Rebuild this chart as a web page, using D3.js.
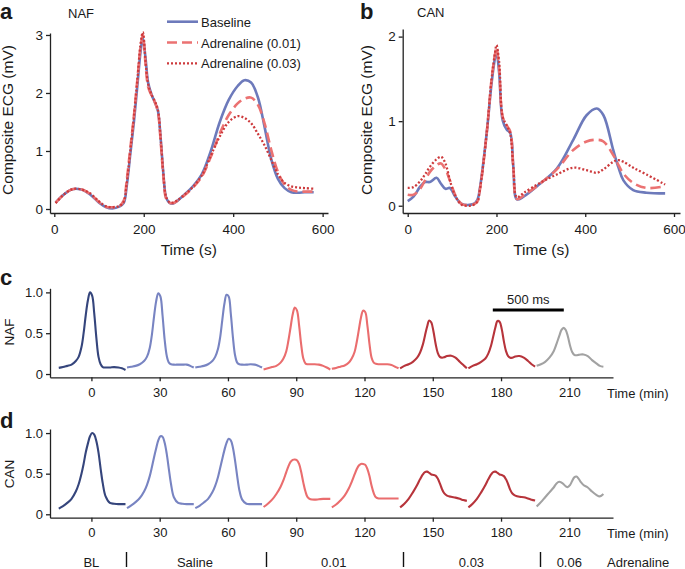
<!DOCTYPE html>
<html><head><meta charset="utf-8">
<script src="https://cdn.jsdelivr.net/npm/d3@7"></script>
<style>
body{margin:0;background:#fff}
svg{display:block;background:#fff}
text{font-family:"Liberation Sans",Arial,Helvetica,sans-serif;fill:#1a1a1a}
</style>
</head><body>
<svg id="chart" width="685" height="569"></svg>
<script>
// ---------- Panel a / b : composite ECG (time in s) ----------
const timeA = [3,20,40,60,80,100,115,130,145,155,162,170,178,186,193,198,204,210,218,226,232,238,244,250,257,265,275,290,310,330,350,370,390,410,425,440,455,470,485,500,515,530,545,560,580];
const nafBaseline = [0.11,0.24,0.34,0.335,0.25,0.11,0.035,0.01,0.04,0.10,0.4,0.95,1.5,2.15,2.72,2.95,2.6,2.17,1.96,1.82,1.68,1.2,0.6,0.2,0.11,0.09,0.14,0.24,0.39,0.6,1.0,1.5,1.88,2.12,2.22,2.18,1.93,1.42,0.86,0.52,0.36,0.29,0.28,0.29,0.29];
const nafAdr001 = [0.11,0.24,0.34,0.34,0.26,0.12,0.04,0.03,0.05,0.14,0.5,1.05,1.6,2.25,2.8,3.0,2.5,2.1,1.95,1.82,1.66,1.15,0.55,0.18,0.11,0.1,0.14,0.23,0.37,0.56,0.9,1.3,1.62,1.82,1.9,1.92,1.8,1.48,1.02,0.64,0.42,0.33,0.3,0.3,0.3];
const nafAdr003 = [0.1,0.24,0.34,0.34,0.27,0.13,0.05,0.03,0.05,0.12,0.45,1.0,1.6,2.25,2.85,3.05,2.55,2.15,1.96,1.84,1.7,1.2,0.6,0.21,0.12,0.11,0.15,0.24,0.38,0.58,0.92,1.25,1.5,1.6,1.57,1.48,1.3,1.1,0.85,0.6,0.45,0.39,0.37,0.36,0.35];

const timeB = [0,13,28,39,50,65,75,85,95,107,122,148,157,163,178,189,197,200,206,214,223,231,238,246,261,298,336,373,403,426,441,463,475,486,508,538,580];
const canBaseline = [0.055,0.107,0.225,0.28,0.28,0.33,0.26,0.2,0.21,0.11,0.02,0.02,0.07,0.22,0.86,1.45,1.76,1.82,1.57,1.01,0.9,0.86,0.46,0.075,0.107,0.26,0.44,0.78,1.07,1.15,1.07,0.66,0.45,0.3,0.185,0.154,0.146];
const canAdr001 = [0.13,0.13,0.2,0.3,0.4,0.48,0.5,0.43,0.3,0.13,0.02,0.015,0.05,0.2,0.86,1.5,1.8,1.87,1.62,1.05,0.95,0.88,0.45,0.08,0.12,0.26,0.43,0.66,0.76,0.78,0.76,0.6,0.48,0.38,0.27,0.21,0.23];
const canAdr003 = [0.21,0.22,0.29,0.37,0.46,0.55,0.58,0.5,0.3,0.12,0.01,0.01,0.05,0.2,0.86,1.5,1.82,1.9,1.7,1.05,0.95,0.85,0.45,0.1,0.15,0.27,0.37,0.45,0.42,0.39,0.43,0.52,0.54,0.52,0.45,0.37,0.25];

const seriesNames = ["Baseline","Adrenaline (0.01)","Adrenaline (0.03)"];
const ticksTimeS = [0,200,400,600];
const ticksNAF = [0,1,2,3];
const ticksCAN = [0,1,2];

// ---------- Panel c / d : averaged beats (time in min, beat window in ms) ----------
const beatTimes = [0,30,60,90,120,150,180,210];
const msGrid = [-230,-200,-170,-140,-110,-90,-70,-55,-40,-25,-10,5,20,35,50,65,80,100,130,160,190,215,240];
const nafBeats = [
  [0.075,0.085,0.10,0.115,0.16,0.21,0.33,0.50,0.72,0.90,1.0,0.96,0.74,0.44,0.21,0.12,0.085,0.08,0.08,0.085,0.08,0.07,0.05],
  [0.08,0.09,0.10,0.12,0.16,0.21,0.32,0.48,0.70,0.89,0.99,0.95,0.72,0.42,0.22,0.14,0.12,0.115,0.115,0.115,0.115,0.10,0.08],
  [0.08,0.09,0.10,0.12,0.16,0.21,0.31,0.45,0.66,0.86,0.97,0.95,0.74,0.45,0.23,0.14,0.12,0.115,0.115,0.12,0.115,0.10,0.08],
  [0.055,0.07,0.085,0.10,0.14,0.19,0.28,0.41,0.57,0.73,0.815,0.78,0.60,0.36,0.19,0.13,0.12,0.12,0.12,0.115,0.10,0.08,0.055],
  [0.065,0.075,0.09,0.105,0.14,0.19,0.27,0.39,0.54,0.69,0.775,0.76,0.60,0.37,0.20,0.14,0.125,0.12,0.12,0.12,0.11,0.09,0.07],
  [0.07,0.10,0.12,0.15,0.20,0.26,0.36,0.47,0.58,0.655,0.63,0.52,0.37,0.26,0.21,0.20,0.205,0.22,0.225,0.20,0.15,0.11,0.07],
  [0.07,0.10,0.12,0.15,0.19,0.25,0.35,0.46,0.57,0.65,0.64,0.55,0.40,0.28,0.22,0.20,0.20,0.215,0.22,0.20,0.16,0.12,0.09],
  [0.10,0.12,0.15,0.20,0.28,0.37,0.47,0.54,0.565,0.54,0.46,0.35,0.27,0.235,0.23,0.235,0.24,0.24,0.22,0.17,0.13,0.10,0.09]
];
const canBeats = [
  [0.07,0.10,0.14,0.19,0.28,0.37,0.50,0.62,0.76,0.87,0.96,1.0,0.98,0.90,0.76,0.56,0.38,0.22,0.14,0.13,0.125,0.125,0.125],
  [0.075,0.11,0.15,0.20,0.28,0.36,0.47,0.58,0.70,0.81,0.91,0.96,0.955,0.88,0.74,0.55,0.37,0.21,0.14,0.13,0.125,0.125,0.125],
  [0.075,0.105,0.145,0.19,0.27,0.35,0.46,0.57,0.68,0.79,0.88,0.93,0.91,0.82,0.66,0.47,0.30,0.18,0.13,0.125,0.125,0.125,0.125],
  [0.09,0.13,0.18,0.25,0.34,0.42,0.52,0.59,0.645,0.67,0.675,0.665,0.62,0.52,0.39,0.28,0.21,0.185,0.18,0.185,0.19,0.19,0.19],
  [0.085,0.12,0.17,0.23,0.32,0.40,0.49,0.555,0.60,0.62,0.62,0.61,0.56,0.47,0.35,0.26,0.21,0.195,0.195,0.195,0.195,0.195,0.195],
  [0.085,0.13,0.19,0.27,0.36,0.43,0.49,0.52,0.525,0.51,0.49,0.485,0.475,0.44,0.38,0.31,0.26,0.23,0.215,0.205,0.19,0.175,0.165],
  [0.085,0.13,0.19,0.27,0.36,0.43,0.49,0.52,0.525,0.51,0.49,0.485,0.47,0.43,0.37,0.30,0.255,0.23,0.215,0.21,0.195,0.18,0.17],
  [0.095,0.15,0.21,0.27,0.33,0.38,0.40,0.39,0.37,0.345,0.335,0.36,0.41,0.455,0.465,0.44,0.40,0.36,0.33,0.28,0.24,0.22,0.25]
];
const ticksBeatY = [0,0.5,1.0];
const scaleBarMs = 500;

// treatment phases
const phaseLabels = ["BL","Saline","0.01","0.03","0.06"];
const phaseCenters = [0,45.5,106.5,167,210];
const phaseBounds = [15,76.5,137,197];

// ---------- styling ----------
const cBase = "#6d7abb", c001 = "#eb7272", c003 = "#cd3a3c";
const beatColors = ["#35457c","#7884c2","#7884c2","#ea6d6e","#ea6d6e","#b7343b","#b7343b","#a2a2a2"];
const AX = "#222";
const svg = d3.select("#chart");

function styleAxis(g, fs){
  g.select(".domain").attr("stroke",AX).attr("stroke-width",1.3);
  g.selectAll(".tick line").attr("stroke",AX).attr("stroke-width",1.3);
  g.selectAll(".tick text").attr("font-size",fs).attr("fill","#1a1a1a")
    .attr("font-family",'"Liberation Sans",Arial,sans-serif');
}
function label(x,y,t,opts={}){
  const el = svg.append("text").attr("x",x).attr("y",y).text(t)
    .attr("font-size",opts.fs||14).attr("text-anchor",opts.anchor||"start");
  if(opts.bold) el.attr("font-weight","bold");
  if(opts.rot) el.attr("transform",`rotate(-90,${x},${y})`);
  return el;
}

// ---------- composite panels ----------
function compositePanel(cfg){
  const x = d3.scaleLinear().domain(cfg.xd).range(cfg.xr);
  const y = d3.scaleLinear().domain(cfg.yd).range(cfg.yr);
  const gx = svg.append("g").attr("transform",`translate(0,${cfg.yr[0]})`)
    .call(d3.axisBottom(x).tickValues(ticksTimeS).tickFormat(d3.format("d"))
      .tickSizeInner(4).tickSizeOuter(0).tickPadding(7));
  styleAxis(gx,13.5);
  const gy = svg.append("g").attr("transform",`translate(${cfg.xr[0]},0)`)
    .call(d3.axisLeft(y).tickValues(cfg.yticks).tickFormat(d3.format("d"))
      .tickSizeInner(4).tickSizeOuter(0).tickPadding(3));
  styleAxis(gy,13.5);
  const styles = [
    {vals:cfg.s[0], color:cBase, dash:null, w:2.6},
    {vals:cfg.s[1], color:c001, dash:"10,5", w:2.6},
    {vals:cfg.s[2], color:c003, dash:"2,2", w:2.3}
  ];
  styles.forEach(s=>{
    const line = d3.line().x((d,i)=>x(cfg.t[i])).y(d=>y(d)).curve(d3.curveCatmullRom.alpha(0.5));
    svg.append("path").attr("d",line(s.vals)).attr("fill","none")
      .attr("stroke",s.color).attr("stroke-width",s.w)
      .attr("stroke-dasharray",s.dash).attr("stroke-linejoin","round");
  });
  return styles;
}

const stA = compositePanel({xd:[-9.6,612], xr:[50,328], yd:[-0.069,3.034], yr:[213,33],
  yticks:ticksNAF, t:timeA, s:[nafBaseline,nafAdr001,nafAdr003]});
compositePanel({xd:[-11.3,613.5], xr:[402.7,680], yd:[-0.086,2.09], yr:[213,29],
  yticks:ticksCAN, t:timeB, s:[canBaseline,canAdr001,canAdr003]});

// legend
const legY = [21.7,42.5,63.3];
stA.forEach((s,i)=>{
  svg.append("line").attr("x1",167).attr("x2",198).attr("y1",legY[i]).attr("y2",legY[i])
    .attr("stroke",s.color).attr("stroke-width",s.w).attr("stroke-dasharray",s.dash);
  label(201,legY[i]+5,seriesNames[i],{fs:13});
});

// panel labels & titles
label(0,19,"a",{fs:22,bold:true});
label(360,19,"b",{fs:22,bold:true});
label(68,18,"NAF",{fs:13});
label(417,17,"CAN",{fs:13});
label(188.8,255,"Time (s)",{fs:15.5,anchor:"middle"});
label(541.3,255,"Time (s)",{fs:15.5,anchor:"middle"});
label(13,120,"Composite ECG (mV)",{fs:15.5,anchor:"middle",rot:true});
label(372,120,"Composite ECG (mV)",{fs:15.5,anchor:"middle",rot:true});

// ---------- beat panels ----------
const xC = d3.scaleLinear().domain([-18.2,229.2]).range([50,613]);
const xMs = d3.scaleLinear().domain([0,500]).range([0,71]);
function beatPanel(beats, yd, yr, name, nameY){
  const y = d3.scaleLinear().domain(yd).range(yr);
  const gx = svg.append("g").attr("transform",`translate(0,${yr[0]})`)
    .call(d3.axisBottom(xC).tickValues(beatTimes).tickSizeInner(4).tickSizeOuter(0).tickPadding(6.5));
  styleAxis(gx,13);
  const gy = svg.append("g").attr("transform",`translate(50,0)`)
    .call(d3.axisLeft(y).tickValues(ticksBeatY).tickSizeInner(4).tickSizeOuter(0).tickPadding(3)
      .tickFormat(d=>d===0?"0":d3.format(".1f")(d)));
  styleAxis(gy,13);
  beats.forEach((vals,k)=>{
    const line = d3.line()
      .x((d,i)=>xC(beatTimes[k]) + xMs(msGrid[i]) - xMs(0))
      .y(d=>y(d)).curve(d3.curveCatmullRom.alpha(0.5));
    svg.append("path").attr("d",line(vals)).attr("fill","none")
      .attr("stroke",beatColors[k]).attr("stroke-width",2.1).attr("stroke-linejoin","round");
  });
  label(607, yr[0]+20.3, "Time (min)", {fs:13});
  label(13.5, nameY, name, {fs:13.5, anchor:"middle", rot:true});
  return y;
}
beatPanel(nafBeats,[-0.04,1.05],[377.3,288.3],"NAF",332);
beatPanel(canBeats,[-0.042,1.05],[517.7,429],"CAN",474);
label(0,285,"c",{fs:22,bold:true});
label(0,428,"d",{fs:22,bold:true});

// scale bar (500 ms) above the 180-min beat
const sbX0 = xC(180) + xMs(-58) - xMs(0);
svg.append("line").attr("x1",sbX0).attr("x2",sbX0 + xMs(scaleBarMs) - xMs(0))
  .attr("y1",310).attr("y2",310).attr("stroke","#000").attr("stroke-width",3.2);
label(sbX0 + (xMs(scaleBarMs)-xMs(0))/2, 303.5, scaleBarMs + " ms", {fs:13, anchor:"middle"});

// phase row
phaseLabels.forEach((p,i)=>label(xC(phaseCenters[i]),566.7,p,{fs:13,anchor:"middle"}));
phaseBounds.forEach(b=>{
  svg.append("line").attr("x1",Math.round(xC(b))+0.5).attr("x2",Math.round(xC(b))+0.5)
    .attr("y1",552).attr("y2",567).attr("stroke","#111").attr("stroke-width",1.4);
});
label(607,566.7,"Adrenaline",{fs:13});
</script>
</body></html>
